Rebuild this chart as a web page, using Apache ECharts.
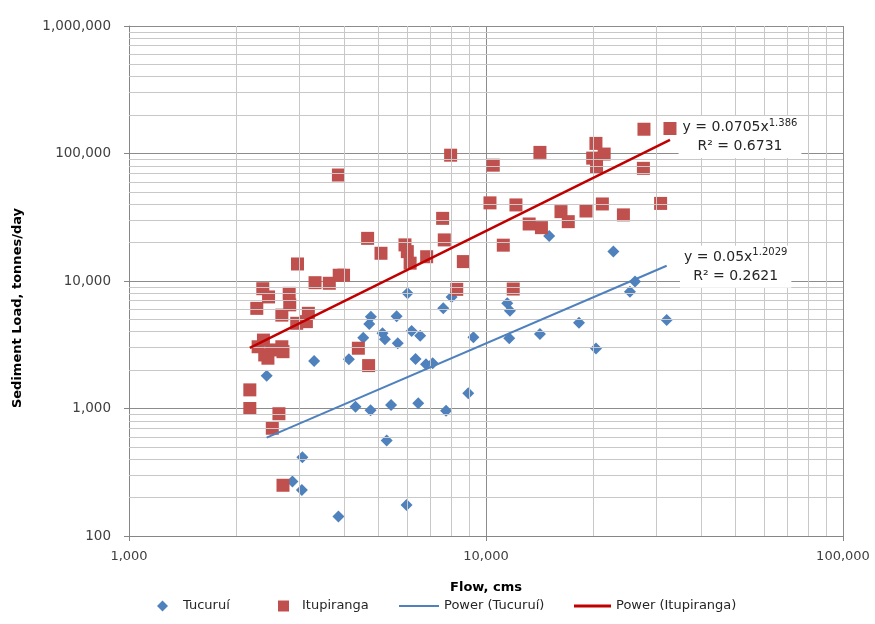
<!DOCTYPE html>
<html>
<head>
<meta charset="utf-8">
<script src="https://cdn.jsdelivr.net/npm/echarts@6/dist/echarts.min.js"></script>
<style>
html,body{margin:0;padding:0;background:#fff;}
#chart{width:875px;height:624px;}
</style>
</head>
<body>
<div id="chart"></div>
<script>
// ---- Data ----
const flowTucurui = [2430,3300,4130,4530,4760,4710,5130,5210,5620,5660,6030,6190,6540,6350,6790,7090,7590,8010,9220,8920,7730,6460,5420,4750,4310,5270,3060,2870,3050,3860,5990,15030,22740,26140,25300,32070,18220,20330,14160,11620,11470,11670];
const loadTucurui = [1810,2360,2430,3590,5250,4600,3890,3490,5300,3250,8000,4060,3720,2440,2220,2260,6100,7500,3620,1320,960,1100,1065,970,1030,560,414,267,230,142,175,22500,17000,9900,8250,4940,4710,2960,3840,3550,6700,5850];

const flowItupiranga = [2180,2180,2630,2520,2700,4390,4690,2280,2370,2460,2810,2820,2680,2950,3140,3180,2965,3320,3640,3880,3990,3860,4660,5080,5930,6020,6130,6820,7560,7640,7960,8640,8280,10260,10480,12130,11180,11920,13210,14300,14160,16220,17000,19060,21180,20320,19900,21430,20400,24260,27700,27600,30840,32760,2380,2300,2400,2510,2680,2700,2450];
const loadItupiranga = [1400,1000,910,700,250,2970,2170,6100,8700,7500,8000,6500,5400,4660,4800,5580,13600,9700,9600,11100,11100,67800,21600,16500,19200,17000,13800,15500,31000,21000,97000,14200,8600,41000,81000,39500,19100,8650,28000,26200,102000,35000,29200,35400,40200,120000,92000,99000,79000,33000,155000,76500,40600,157000,3440,3050,2630,2880,3050,2790,2480];

// Trend line equations as printed on the chart
const fitTucuruiA = 0.05, fitTucuruiB = 1.2029, fitTucuruiR2 = '0.2621';
const fitItupirangaA = 0.0705, fitItupirangaB = 1.386, fitItupirangaR2 = '0.6731';

const xTicks = [1000, 10000, 100000];
const yTicks = [100, 1000, 10000, 100000, 1000000];
const seriesNames = ['Tucuruí', 'Itupiranga', 'Power (Tucuruí)', 'Power (Itupiranga)'];

// ---- Build ----
const zip = (xs, ys) => xs.map((x, i) => [x, ys[i]]);
function trend(xs, a, b) {
  const lo = Math.min(...xs), hi = Math.max(...xs);
  return [[lo, a * Math.pow(lo, b)], [hi, a * Math.pow(hi, b)]];
}
function minorValues(ticks) {
  const out = [];
  for (let i = 0; i < ticks.length - 1; i++) {
    for (let m = 2; m <= 9; m++) out.push(ticks[i] * m);
  }
  return out;
}
const FONT = 'DejaVu Sans';
const fmt = v => Math.round(v).toLocaleString('en-US');
const trendTuc = trend(flowTucurui, fitTucuruiA, fitTucuruiB);
const trendItu = trend(flowItupiranga, fitItupirangaA, fitItupirangaB);

function eqLabel(a, b, r2, offset) {
  return {
    show: true,
    position: 'inside',
    offset: offset,
    align: 'center',
    verticalAlign: 'middle',
    backgroundColor: '#fff',
    padding: [2, 4, 2, 4],
    formatter: '{m|y = ' + a + 'x}{s|' + b + '}\n{m|R² = ' + r2 + '}',
    rich: {
      m: { fontFamily: FONT, fontSize: 14, color: '#262626', lineHeight: 19 },
      s: { fontFamily: FONT, fontSize: 10, color: '#262626', verticalAlign: 'top' }
    }
  };
}

const chart = echarts.init(document.getElementById('chart'), null, { renderer: 'canvas' });
function legendItem(left, name, icon, w, h, gapPad) {
  return {
    orient: 'horizontal', top: 607 - Math.max(h, 15) / 2, left: left, padding: 0,
    itemWidth: w, itemHeight: h, selectedMode: false,
    data: [{ name: name, icon: icon }],
    textStyle: { fontFamily: FONT, fontSize: 13, color: '#262626', padding: [0, 0, 0, gapPad] }
  };
}
chart.setOption({
  animation: false,
  backgroundColor: '#fff',
  grid: { left: 129, right: 32, top: 26, bottom: 88, containLabel: false, outerBoundsMode: 'none' },
  xAxis: {
    type: 'log', logBase: 10, min: xTicks[0], max: xTicks[xTicks.length - 1],
    name: 'Flow, cms', nameLocation: 'middle', nameGap: 45,
    nameTextStyle: { fontFamily: FONT, fontSize: 13, fontWeight: 'bold', color: '#000' },
    axisLine: { show: true, onZero: false, lineStyle: { color: '#868686', width: 1 } },
    axisTick: { show: true, inside: false, length: 5, lineStyle: { color: '#868686' } },
    axisLabel: { margin: 14, fontFamily: FONT, fontSize: 13, color: '#404040', formatter: fmt },
    splitLine: { show: true, lineStyle: { color: '#8c8c8c', width: 1 } },
    minorTick: { show: false }, minorSplitLine: { show: false }
  },
  yAxis: {
    type: 'log', logBase: 10, min: yTicks[0], max: yTicks[yTicks.length - 1],
    axisLine: { show: true, onZero: false, lineStyle: { color: '#868686', width: 1 } },
    axisTick: { show: true, inside: false, length: 5, lineStyle: { color: '#868686' } },
    axisLabel: { margin: 18, fontFamily: FONT, fontSize: 13.5, color: '#404040', formatter: fmt },
    splitLine: { show: true, lineStyle: { color: '#8c8c8c', width: 1 } },
    minorTick: { show: false }, minorSplitLine: { show: false }
  },
  legend: [
    legendItem(157, seriesNames[0], 'diamond', 11, 11, 10),
    legendItem(278, seriesNames[1], 'rect', 11, 11, 8),
    legendItem(399, seriesNames[2], 'rect', 40, 2, 0),
    legendItem(574, seriesNames[3], 'rect', 37, 3, 0)
  ],
  graphic: [{
    type: 'text', x: 18, y: 308, rotation: Math.PI / 2,
    style: { text: 'Sediment Load, tonnes/day', font: 'bold 13px "DejaVu Sans"', fill: '#000',
             textAlign: 'center', textVerticalAlign: 'middle' }
  }],
  series: [
    {
      name: 'minor-grid', type: 'line', data: [], z: 1, silent: true,
      markLine: {
        silent: true, symbol: 'none', animation: false,
        label: { show: false },
        lineStyle: { color: '#c8c8c8', width: 1, type: 'solid' },
        emphasis: { disabled: true },
        data: minorValues(xTicks).map(v => ({ xAxis: v }))
          .concat(minorValues(yTicks).map(v => ({ yAxis: v })))
      }
    },
    {
      name: seriesNames[0], type: 'scatter', z: 3,
      symbol: 'diamond', symbolSize: 12,
      itemStyle: { color: '#4F81BD', opacity: 1, borderWidth: 0 },
      data: zip(flowTucurui, loadTucurui)
    },
    {
      name: seriesNames[1], type: 'scatter', z: 4,
      symbol: 'rect', symbolSize: 13,
      itemStyle: { color: '#C0504D', opacity: 1, borderWidth: 0 },
      data: zip(flowItupiranga, loadItupiranga)
    },
    {
      name: seriesNames[2], type: 'line', z: 5, symbol: 'none', silent: true,
      lineStyle: { color: '#4F81BD', width: 2 },
      itemStyle: { color: '#4F81BD' },
      data: trendTuc,
      markPoint: {
        symbol: 'rect', symbolSize: 0, silent: true,
        data: [{ coord: trendTuc[1] }],
        label: eqLabel(fitTucuruiA, fitTucuruiB, fitTucuruiR2, [69, 1])
      }
    },
    {
      name: seriesNames[3], type: 'line', z: 6, symbol: 'none', silent: true,
      lineStyle: { color: '#C00000', width: 2.5 },
      itemStyle: { color: '#C00000' },
      data: trendItu,
      markPoint: {
        symbol: 'rect', symbolSize: 0, silent: true,
        data: [{ coord: trendItu[1] }],
        label: eqLabel(fitItupirangaA, fitItupirangaB, fitItupirangaR2, [70, -3])
      }
    }
  ]
});
</script>
</body>
</html>
